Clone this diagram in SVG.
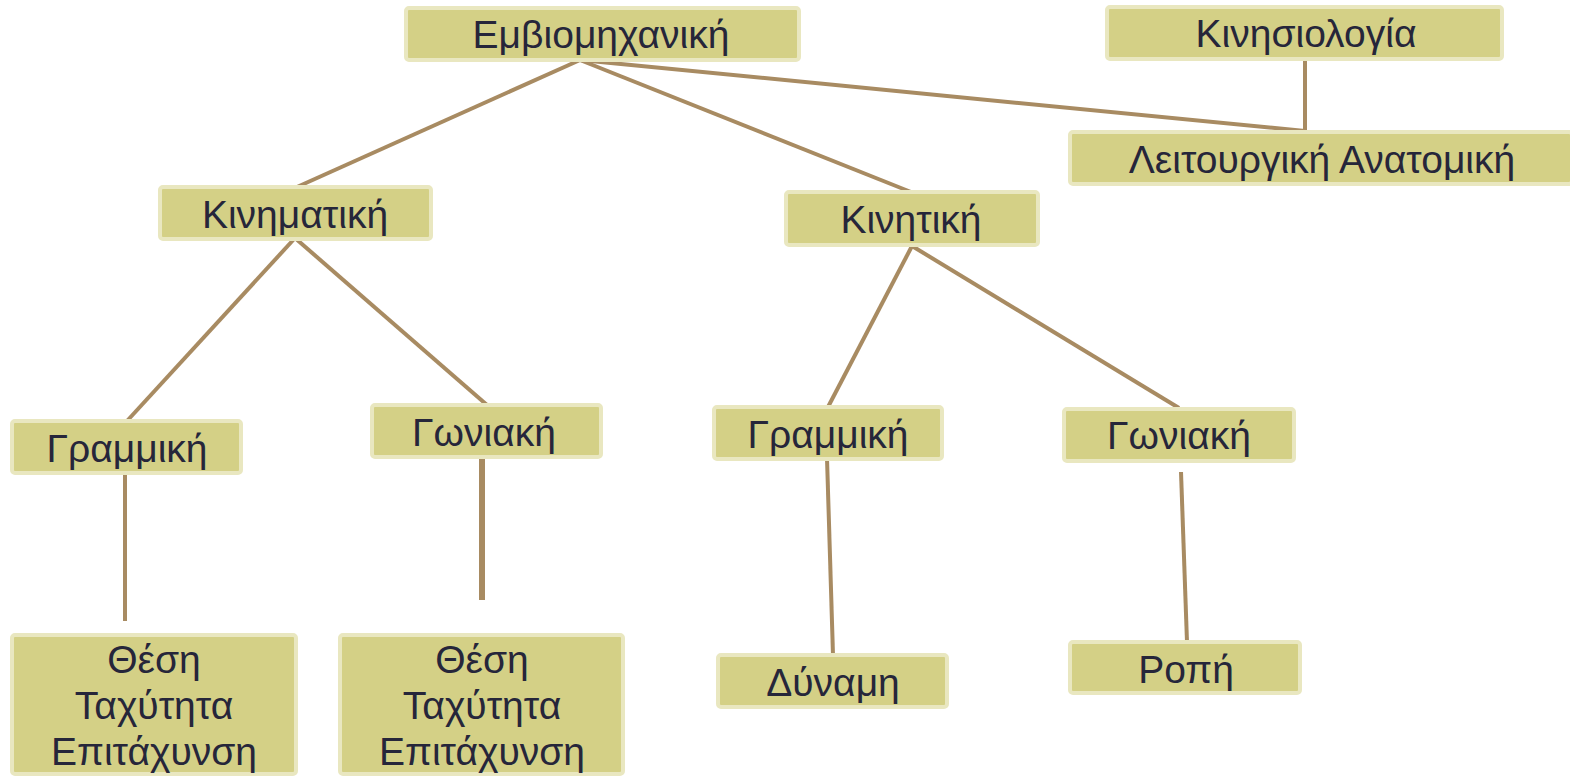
<svg xmlns="http://www.w3.org/2000/svg" width="1570" height="779" viewBox="0 0 1570 779">
<style>
.box{fill:#d4d086;stroke:#e9e7c0;stroke-width:4}
.t{font-family:"Liberation Sans",Arial,sans-serif;font-size:39px;fill:#26263a;text-anchor:middle}
.c{stroke:#a88b62;stroke-width:4;fill:none;stroke-linecap:butt}
</style>
<rect width="1570" height="779" fill="#ffffff"/>
<g id="connectors">
<line class="c" x1="580" y1="60" x2="297" y2="187"/>
<line class="c" x1="580" y1="60" x2="911" y2="192"/>
<line class="c" x1="580" y1="60" x2="1305" y2="131"/>
<line class="c" x1="1305" y1="60" x2="1305" y2="131"/>
<line class="c" x1="295" y1="238" x2="127" y2="421"/>
<line class="c" x1="295" y1="238" x2="487" y2="405"/>
<line class="c" x1="125" y1="475" x2="125" y2="621"/>
<line class="c" x1="482" y1="455" x2="482" y2="600" style="stroke-width:6"/>
<line class="c" x1="912" y1="246" x2="828" y2="407"/>
<line class="c" x1="912" y1="246" x2="1179" y2="408"/>
<line class="c" x1="827" y1="458" x2="833" y2="655"/>
<line class="c" x1="1181" y1="472" x2="1187" y2="642"/>
</g>
<g id="n-embiomichaniki"><rect class="box" x="406" y="8" width="393" height="52" rx="3"/><text class="t" x="601" y="48">Εμβιομηχανική</text></g>
<g id="n-kinisiologia"><rect class="box" x="1107" y="7" width="395" height="52" rx="3"/><text class="t" x="1306" y="47">Κινησιολογία</text></g>
<g id="n-leitourgiki"><rect class="box" x="1070" y="132" width="502" height="52" rx="3"/><text class="t" x="1322" y="173">Λειτουργική Ανατομική</text></g>
<g id="n-kinimatiki"><rect class="box" x="160" y="187" width="271" height="52" rx="3"/><text class="t" x="295" y="228">Κινηματική</text></g>
<g id="n-kinitiki"><rect class="box" x="786" y="192" width="252" height="53" rx="3"/><text class="t" x="911" y="233">Κινητική</text></g>
<g id="n-grammiki1"><rect class="box" x="12" y="421" width="229" height="52" rx="3"/><text class="t" x="127" y="462">Γραμμική</text></g>
<g id="n-goniaki1"><rect class="box" x="372" y="405" width="229" height="52" rx="3"/><text class="t" x="484" y="446">Γωνιακή</text></g>
<g id="n-grammiki2"><rect class="box" x="714" y="407" width="228" height="52" rx="3"/><text class="t" x="828" y="448">Γραμμική</text></g>
<g id="n-goniaki2"><rect class="box" x="1064" y="409" width="230" height="52" rx="3"/><text class="t" x="1179" y="449">Γωνιακή</text></g>
<g id="n-kin1"><rect class="box" x="12" y="635" width="284" height="139" rx="3"/><text class="t" x="154" y="673">Θέση</text><text class="t" x="154" y="719">Ταχύτητα</text><text class="t" x="154" y="765">Επιτάχυνση</text></g>
<g id="n-kin2"><rect class="box" x="340" y="635" width="283" height="139" rx="3"/><text class="t" x="482" y="673">Θέση</text><text class="t" x="482" y="719">Ταχύτητα</text><text class="t" x="482" y="765">Επιτάχυνση</text></g>
<g id="n-dynami"><rect class="box" x="718" y="655" width="229" height="52" rx="3"/><text class="t" x="833" y="696">Δύναμη</text></g>
<g id="n-ropi"><rect class="box" x="1070" y="642" width="230" height="51" rx="3"/><text class="t" x="1186" y="683">Ροπή</text></g>
</svg>
